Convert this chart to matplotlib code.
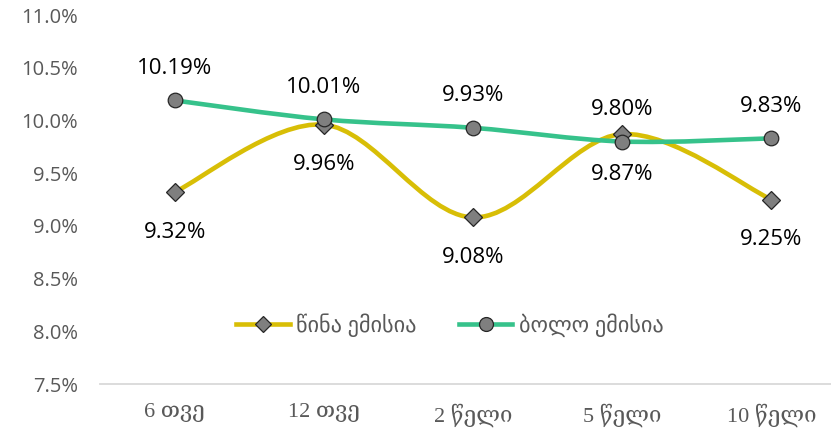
import matplotlib.pyplot as plt
from matplotlib.path import Path
from matplotlib.patches import PathPatch
from matplotlib.lines import Line2D
from matplotlib.ticker import FuncFormatter

# Data
categories = ['6 თვე', '12 თვე', '2 წელი', '5 წელი', '10 წელი']
prev_issue = [9.32, 9.96, 9.08, 9.87, 9.25]
last_issue = [10.19, 10.01, 9.93, 9.80, 9.83]
series_names = ['წინა ემისია', 'ბოლო ემისია']

yellow = '#D8BE06'
green = '#36C28B'
gray = '#595959'


def smooth_path(xs, ys):
    # Excel-like smoothed line: cubic Bezier through each point
    pts = list(zip(xs, ys))
    n = len(pts)
    verts = [pts[0]]
    codes = [Path.MOVETO]
    for i in range(n - 1):
        p0 = pts[i - 1] if i > 0 else pts[i]
        p1 = pts[i]
        p2 = pts[i + 1]
        p3 = pts[i + 2] if i + 2 < n else pts[i + 1]
        c1 = (p1[0] + (p2[0] - p0[0]) / 6, p1[1] + (p2[1] - p0[1]) / 6)
        c2 = (p2[0] - (p3[0] - p1[0]) / 6, p2[1] - (p3[1] - p1[1]) / 6)
        verts += [c1, c2, p2]
        codes += [Path.CURVE4] * 3
    return Path(verts, codes)


fig = plt.figure(figsize=(8.31, 4.36), dpi=100)
ax = fig.add_axes([100 / 831, (436 - 384) / 436, 731 / 831, (384 - 15) / 436])

x = list(range(len(categories)))

for vals, col in [(prev_issue, yellow), (last_issue, green)]:
    ax.add_patch(PathPatch(smooth_path(x, vals), facecolor='none', edgecolor=col,
                           lw=3.3, capstyle='round', zorder=2))

ax.plot(x, prev_issue, ls='none', marker='D', ms=9, mfc='#7F7F7F', mec='#262626',
        mew=0.9, zorder=4)
ax.plot(x, last_issue, ls='none', marker='o', ms=10.5, mfc='#7F7F7F', mec='#262626',
        mew=0.9, zorder=4)

label_font = ['Open Sans', 'DejaVu Sans']
for xi, v in zip(x, last_issue):
    ax.annotate(f'{v:.2f}%', (xi, v), xytext=(0, 23), textcoords='offset points',
                ha='center', va='center', fontsize=16, color='black', family=label_font)
for xi, v in zip(x, prev_issue):
    ax.annotate(f'{v:.2f}%', (xi, v), xytext=(0, -29), textcoords='offset points',
                ha='center', va='center', fontsize=16, color='black', family=label_font)

ax.set_xlim(-0.5, 4.40)
ax.set_ylim(7.5, 11.0)
ax.set_yticks([7.5, 8.0, 8.5, 9.0, 9.5, 10.0, 10.5, 11.0])
ax.yaxis.set_major_formatter(FuncFormatter(lambda v, p: f'{v:.1f}%'))
ax.set_xticks(x)
ax.set_xticklabels(categories, family=['Liberation Serif', 'DejaVu Serif'], fontsize=16, color=gray)
for lab in ax.get_yticklabels():
    lab.set_family(label_font)
    lab.set_fontsize(14.5)
    lab.set_color(gray)

ax.tick_params(axis='both', length=0)
ax.tick_params(axis='x', pad=14)
ax.tick_params(axis='y', pad=16)
for s in ['top', 'right', 'left']:
    ax.spines[s].set_visible(False)
ax.spines['bottom'].set_color('#D9D9D9')
ax.spines['bottom'].set_linewidth(1.3)

handles = [
    Line2D([], [], color=yellow, lw=3.3, marker='D', ms=8.5, mfc='#7F7F7F', mec='#262626', mew=0.9),
    Line2D([], [], color=green, lw=3.3, marker='o', ms=10, mfc='#7F7F7F', mec='#262626', mew=0.9),
]
fig.legend(handles, series_names, loc='center', bbox_to_anchor=(450 / 831, 1 - 325 / 436),
           ncol=2, frameon=False, handlelength=2.4, columnspacing=1.9, handletextpad=0.3,
           prop={'family': label_font, 'size': 16}, labelcolor=gray)

fig.savefig('out.png', dpi=100)
